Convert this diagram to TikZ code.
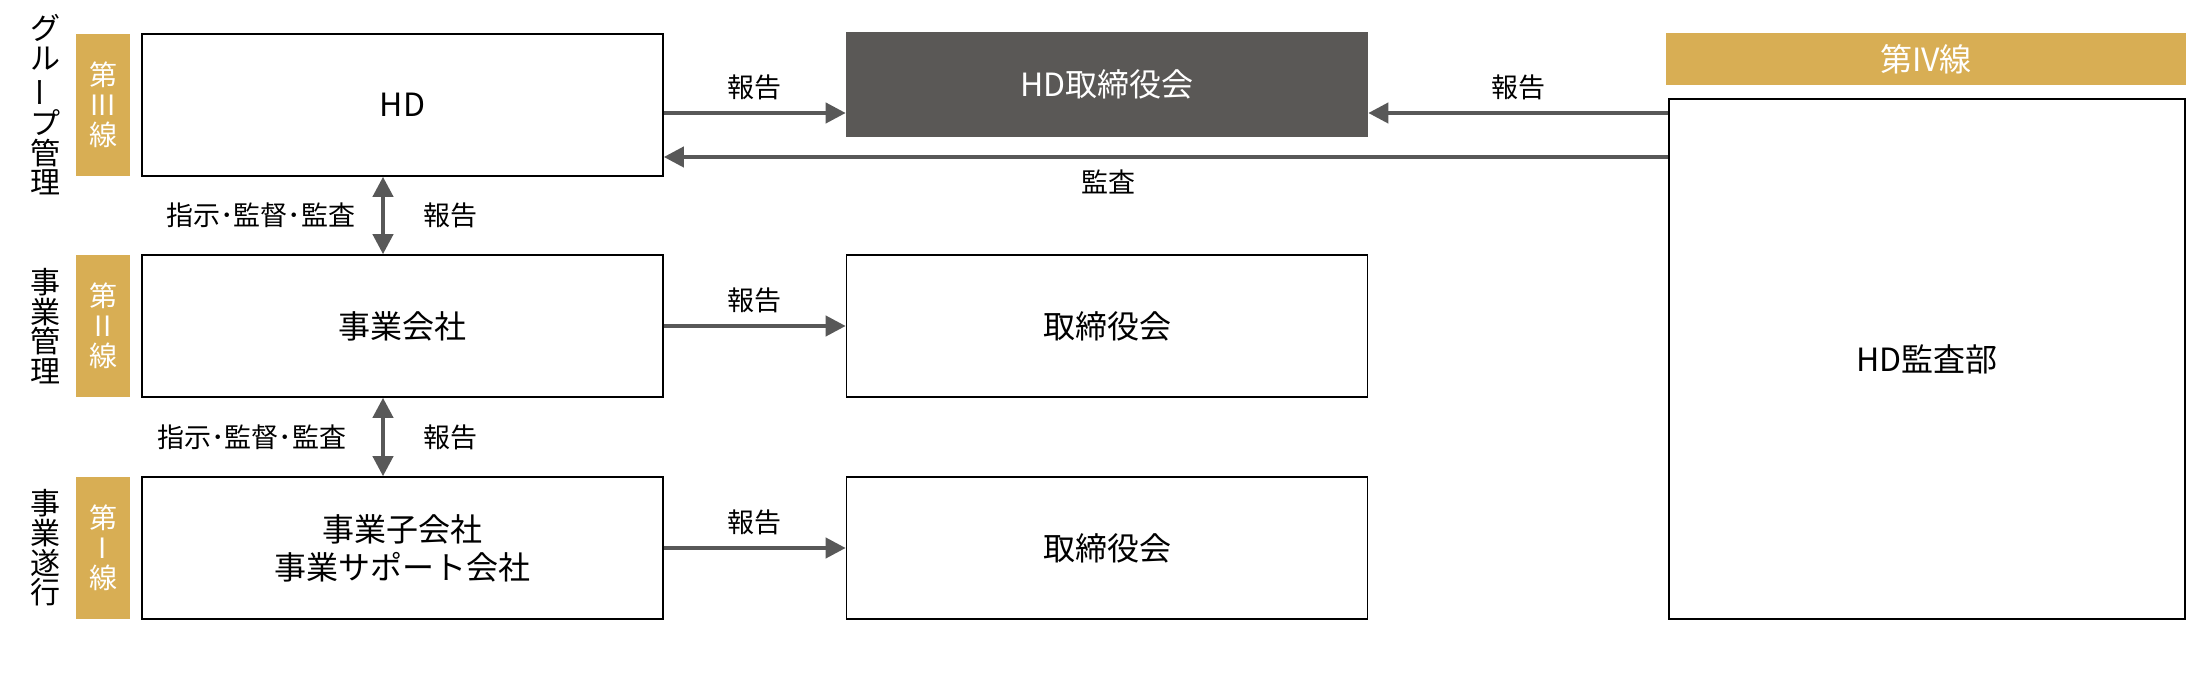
\documentclass[tikz,border=0pt]{standalone}
\usepackage{fontspec}
\setmainfont{Noto Sans CJK JP}
\usetikzlibrary{arrows.meta,calc}
\definecolor{gold}{RGB}{216,174,84}
\definecolor{boardgray}{RGB}{90,88,86}
\definecolor{arrowgray}{RGB}{88,88,88}
\begin{document}
\begin{tikzpicture}[x=0.5pt,y=-0.5pt,
	box/.style={draw, line width=0.8pt, minimum width=260.5pt, minimum height=71pt, inner sep=0pt, align=center, font=\fontsize{16}{19}\selectfont},
	tab/.style={fill=gold, text=white, minimum width=27pt, minimum height=71pt, inner sep=0pt, align=center, font=\fontsize{14}{15}\selectfont},
	side/.style={align=center, inner sep=0pt, font=\fontsize{15}{14.8}\selectfont},
	lbl/.style={font=\fontsize{13.5}{16}\selectfont},
	arr/.style={draw=arrowgray, line width=2pt, -{Triangle[length=10pt,width=10pt]}},
	darr/.style={draw=arrowgray, line width=2pt, {Triangle[length=10pt,width=10pt]}-{Triangle[length=10pt,width=10pt]}}]
	\useasboundingbox (0,0) rectangle (2210,678);
	%% left column: the three lines of defence
	\node[box] (hd) at (402.5,105) {HD};
	\node[box] (sub) at (402.5,326) {事業会社};
	\node[box] (ops) at (402.5,548) {事業子会社\\事業サポート会社};
	%% tabs and side texts drawn with a loop
	\foreach \y/\name/\num/\side in {105/hd/III/{グ\\ル\\\rotatebox[origin=c]{90}{ー}\\プ\\管\\理}, 326/sub/II/{事\\業\\管\\理}, 548/ops/I/{事\\業\\遂\\行}}{
		\node[tab] (tab\name) at (103,\y) {第\\\num\\線};
		\node[side] (side\name) at (45,\y) {\side};
	}
	%% boards
	\node[box, fill=boardgray, draw=boardgray, text=white, minimum height=51.5pt] (hdboard) at (1107,84.5) {HD取締役会};
	\node[box] (subboard) at (1107,326) {取締役会};
	\node[box] (opsboard) at (1107,548) {取締役会};
	%% audit department
	\node[fill=gold, text=white, minimum width=260pt, minimum height=26pt, inner sep=0pt, font=\fontsize{16}{19}\selectfont] (tabIV) at (1926,59) {第IV線};
	\node[box, minimum width=258pt, minimum height=260pt] (audit) at (1927,359) {HD監査部};
	%% reporting lines
	\coordinate (inL) at ([yshift=-14.25pt]hdboard.west);
	\coordinate (inR) at ([yshift=-14.25pt]hdboard.east);
	\coordinate (back) at ([yshift=-26pt]hd.east);
	\draw[arr] (hd.east |- inL) -- node[lbl, above, yshift=2pt] {報告} (inL);
	\draw[arr] (audit.west |- inR) -- node[lbl, above, yshift=2pt] {報告} (inR);
	\draw[arr] (audit.west |- back) -- node[lbl, below, pos=0.557, yshift=-2pt] {監査} (back);
	\draw[arr] (sub) -- node[lbl, above, yshift=2pt] {報告} (subboard);
	\draw[arr] (ops) -- node[lbl, above, yshift=2pt] {報告} (opsboard);
	%% instructions down, reports up
	\draw[darr] ([xshift=-9.75pt]hd.south) -- node[lbl, left, xshift=-9.5pt] {指示･監督･監査} node[lbl, right, xshift=16pt] {報告} ([xshift=-9.75pt]sub.north);
	\draw[darr] ([xshift=-9.75pt]sub.south) -- node[lbl, left, xshift=-14pt] {指示･監督･監査} node[lbl, right, xshift=16pt] {報告} ([xshift=-9.75pt]ops.north);
\end{tikzpicture}
\end{document}
